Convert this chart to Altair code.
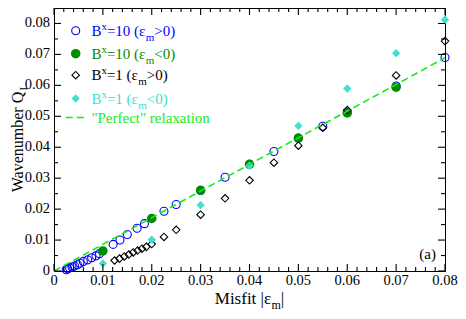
import altair as alt
import pandas as pd

# ---------------- data ----------------
blue_x = [0.0025, 0.0028, 0.0032, 0.0037, 0.0042, 0.0048, 0.0053, 0.0060, 0.0069, 0.0077,
          0.0086, 0.0093, 0.0121, 0.0135, 0.0150, 0.0170, 0.0185, 0.0225, 0.0250, 0.0300,
          0.0350, 0.0400, 0.0450, 0.0500, 0.0550, 0.0600, 0.0700, 0.0800]
blue_y = [0.0004, 0.0007, 0.0010, 0.0013, 0.0016, 0.0020, 0.0025, 0.0031, 0.0036, 0.0043,
          0.0049, 0.0056, 0.0086, 0.0100, 0.0118, 0.0138, 0.0153, 0.0193, 0.0215, 0.0260,
          0.0303, 0.0345, 0.0386, 0.0430, 0.0468, 0.0513, 0.0598, 0.0690]

green_x = [0.01, 0.02, 0.03, 0.04, 0.05, 0.06, 0.07]
green_y = [0.0065, 0.0170, 0.0261, 0.0345, 0.0429, 0.0511, 0.0594]

black_x = [0.0124, 0.0134, 0.0144, 0.0153, 0.0162, 0.0171, 0.0180, 0.0189, 0.0200, 0.0225,
           0.0250, 0.0300, 0.0350, 0.0400, 0.0450, 0.0500, 0.0550, 0.0600, 0.0700, 0.0800]
black_y = [0.0034, 0.0040, 0.0047, 0.0053, 0.0060, 0.0066, 0.0072, 0.0078, 0.0087, 0.0110,
           0.0133, 0.0182, 0.0235, 0.0293, 0.0350, 0.0405, 0.0463, 0.0520, 0.0632, 0.0743]

cyan_x = [0.01, 0.02, 0.03, 0.04, 0.05, 0.06, 0.07, 0.08]
cyan_y = [0.0024, 0.0101, 0.0213, 0.0340, 0.0469, 0.0590, 0.0704, 0.0812]

line_x = [0.0, 0.08]
line_y = [0.0, 0.0689]

x_major = [0, 0.01, 0.02, 0.03, 0.04, 0.05, 0.06, 0.07, 0.08]
x_labels = ["0", "0.01", "0.02", "0.03", "0.04", "0.05", "0.06", "0.07", "0.08"]
x_minor = [round(i * 0.002, 4) for i in range(41) if i % 5 != 0]
y_major = [0, 0.01, 0.02, 0.03, 0.04, 0.05, 0.06, 0.07, 0.08]
y_labels = ["0", "0.01", "0.02", "0.03", "0.04", "0.05", "0.06", "0.07", "0.08"]
y_minor = [0.005, 0.015, 0.025, 0.035, 0.045, 0.055, 0.065, 0.075]

# ---------------- styling ----------------
W, H = 391, 263
XMAX, YMAX = 0.08, 0.085
FONT = "Liberation Serif"
BLUE, GREEN, BLACK, CYAN, LGREEN = "#0000ff", "#008c00", "#000000", "#40e0d0", "#11ee11"

xs = alt.Scale(domain=[0, XMAX], nice=False, zero=False)
ys = alt.Scale(domain=[0, YMAX], nice=False, zero=False)


def sx(v):  # same linear mapping as the x scale
    return v / XMAX * W


def sy(v):  # same linear mapping as the y scale
    return H * (1 - v / YMAX)


def df(x, y):
    return pd.DataFrame({"x": x, "y": y})


def points(x, y, shape, filled, color, size):
    return alt.Chart(df(x, y)).mark_point(
        shape=shape, filled=filled, color=color, size=size, strokeWidth=1.1, opacity=1
    ).encode(x=alt.X("x:Q", scale=xs, axis=None), y=alt.Y("y:Q", scale=ys, axis=None))


ONE = pd.DataFrame({"t": [0]})


def vrule(xp, y0, y1):
    return alt.Chart(ONE).mark_rule(color="black", strokeWidth=1.1).encode(
        x=alt.value(xp), y=alt.value(y0), y2=alt.value(y1))


def hrule(yp, x0, x1):
    return alt.Chart(ONE).mark_rule(color="black", strokeWidth=1.1).encode(
        y=alt.value(yp), x=alt.value(x0), x2=alt.value(x1))


# Times-like glyph widths (em)
WID = {"B": .667, "x": .5, "=": .564, "1": .5, "0": .5, " ": .25, "(": .333, ")": .333,
       "ε": .44, "m": .778, ">": .564, "<": .564, "W": .944, "a": .444, "v": .5, "e": .444,
       "n": .5, "u": .5, "b": .5, "r": .333, "Q": .722, "I": .333, "M": .889, "i": .278,
       "s": .389, "f": .333, "t": .278, "|": .2, "P": .556, "c": .444, "l": .278, "o": .5,
       '"': .408}


def tw(s, fs):
    return sum(WID.get(c, .5) for c in s) * fs


def text_at(text, px, py, color="black", fs=15, align="left", baseline="alphabetic", angle=0):
    return alt.Chart(pd.DataFrame({"t": [text]})).mark_text(
        align=align, baseline=baseline, font=FONT, fontSize=fs, color=color, angle=angle
    ).encode(text="t:N", x=alt.value(px), y=alt.value(py))


def rich(segs, x0, y0, color, fs=15, sfs=11, angle=0, sup=-6, sub=5):
    out = []
    adv = 0.0
    for text, kind in segs:
        size = fs if kind == "n" else sfs
        d = 0 if kind == "n" else (sup if kind == "sup" else sub)
        if angle == 0:
            px, py = x0 + adv, y0 + d
        else:
            px, py = x0 + d, y0 - adv
        out.append(text_at(text, px, py, color, size, angle=angle))
        adv += tw(text, size)
    return out


layers = []

# data
layers.append(points(blue_x, blue_y, "circle", False, BLUE, 64))
layers.append(points(green_x, green_y, "circle", True, GREEN, 90))
layers.append(points(black_x, black_y, "diamond", False, BLACK, 56))
layers.append(points(cyan_x, cyan_y, "diamond", True, CYAN, 70))
layers.append(alt.Chart(df(line_x, line_y)).mark_line(
    color=LGREEN, strokeWidth=1.6, strokeDash=[7, 4]
).encode(x=alt.X("x:Q", scale=xs, axis=None), y=alt.Y("y:Q", scale=ys, axis=None)))

# inward ticks on all four sides
for vals, L in ((x_major, 7), (x_minor, 4)):
    for v in vals:
        layers.append(vrule(sx(v), H, H - L))
        layers.append(vrule(sx(v), 0, L))
for vals, L in ((y_major, 7), (y_minor, 4)):
    for v in vals:
        layers.append(hrule(sy(v), 0, L))
        layers.append(hrule(sy(v), W, W - L))

# tick labels
for v, lab in zip(x_major, x_labels):
    layers.append(text_at(lab, sx(v), H + 3, fs=14.5, align="center", baseline="top"))
for v, lab in zip(y_major, y_labels):
    layers.append(text_at(lab, -4, sy(v), fs=14.5, align="right", baseline="middle"))

# legend
SYM_X, TXT_X = 21.7, 37.4
rows = [
    ("circle", False, BLUE, 64, "=10 (ε", ">0)", 22.7),
    ("circle", True, GREEN, 90, "=10 (ε", "<0)", 45.7),
    ("diamond", False, BLACK, 56, "=1 (ε", ">0)", 67.2),
    ("diamond", True, CYAN, 70, "=1 (ε", "<0)", 90.5),
]
for shape, filled, color, size, mid, tail, yy in rows:
    layers.append(alt.Chart(ONE).mark_point(
        shape=shape, filled=filled, color=color, size=size, strokeWidth=1.1, opacity=1
    ).encode(x=alt.value(SYM_X), y=alt.value(yy)))
    layers += rich([("B", "n"), ("x", "sup"), (mid, "n"), ("m", "sub"), (tail, "n")],
                   TXT_X, yy + 5, color)

LEG_LINE_Y = 109.5
layers.append(alt.Chart(ONE).mark_rule(
    color=LGREEN, strokeWidth=1.6, strokeDash=[7, 4]
).encode(x=alt.value(11.8), x2=alt.value(31.5), y=alt.value(LEG_LINE_Y)))
layers += rich([('"Perfect" relaxation', "n")], TXT_X, LEG_LINE_Y + 5, LGREEN)

# panel label
layers.append(text_at("(a)", 382, 250.7, align="right"))

# axis titles (with subscripts)
xt_w = tw("Misfit |ε", 17) + tw("m", 12) + tw("|", 17)
layers += rich([("Misfit |ε", "n"), ("m", "sub"), ("|", "n")],
               W / 2 - xt_w / 2, H + 33, "black", fs=17, sfs=12, sub=5)
yt_len = tw("Wavenumber Q", 16) + tw("I", 11)
layers += rich([("Wavenumber Q", "n"), ("I", "sub")],
               -31, H / 2 + yt_len / 2, "black", fs=16, sfs=11, angle=270, sub=4)

chart = alt.layer(*layers).properties(
    width=W, height=H,
    padding={"left": 46, "top": 0, "right": 13, "bottom": 40},
    autosize=alt.AutoSizeParams(type="none"),
    background="white",
).configure_view(stroke="black", strokeWidth=1)

chart.save("out.html", embed_options={"renderer": "svg", "actions": False})
